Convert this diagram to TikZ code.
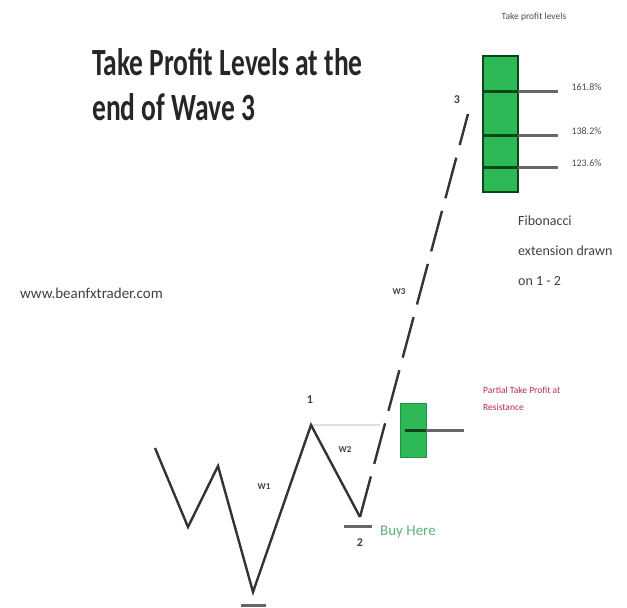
\documentclass[tikz,border=0pt]{standalone}
\usepackage{fontspec}
\setmainfont{Carlito}
\usetikzlibrary{positioning}
\definecolor{boxgreen}{RGB}{45,185,85}
\definecolor{darkgreen}{RGB}{10,70,25}
\definecolor{buygreen}{RGB}{95,175,125}
\definecolor{partred}{RGB}{185,45,70}

\begin{document}
\begin{tikzpicture}[x=1pt,y=-1pt,
  wave/.style={line width=2.4pt, color=black!80, line join=miter},
  wavelbl/.style={font=\bfseries\fontsize{9}{9}\selectfont, text=black!75, inner sep=1pt},
  lvl/.style={line width=3pt, color=black!60},
  txt/.style={font=\fontsize{14}{30}\selectfont, text=black!75, align=left, inner sep=0pt}]
  \useasboundingbox (0,0) rectangle (627,608);

  % Title
  \node[anchor=north west, text=black!85, font=\bfseries\fontsize{27.5}{32}\selectfont,
        inner sep=0pt] (title) at (92,44)
        {\scalebox{1}[1.4]{\begin{tabular}{@{}l@{}}Take Profit Levels at the\\end of Wave 3\end{tabular}}};
  \node[txt, anchor=west, font=\fontsize{15}{15}\selectfont] (site) at (20,293) {www.beanfxtrader.com};

  % Wave points
  \coordinate (s) at (155,448);
  \coordinate (a) at (188,527);
  \coordinate (b) at (218,466);
  \coordinate (w0) at (253,592);
  \coordinate (w1) at (311,425);
  \coordinate (w2) at (360,517);
  \coordinate (w3) at (468,114);
  \coordinate (w1r) at (380,425);

  % Draw the waves
  \draw[black!12, line width=2pt] (w1) -- (w1r);
  \draw[wave] (s) -- (a) -- (b) -- (w0) -- (w1) -- (w2);
  \draw[wave, dash pattern=on 42pt off 13pt] (w2) -- (w3);

  % Wave marks
  \coordinate (w0l) at (241,605);
  \coordinate (w0r) at (266,605);
  \draw[lvl] (w0l) -- (w0r);
  \coordinate (w2l) at (344,526);
  \coordinate (w2r) at (372,526);
  \draw[lvl] (w2l) -- (w2r);
  \node[wavelbl, font=\bfseries\fontsize{12}{12}\selectfont] (n1) at (310,400) {1};
  \node[wavelbl, font=\bfseries\fontsize{12}{12}\selectfont] (n2) at (360,543) {2};
  \node[wavelbl, font=\bfseries\fontsize{12}{12}\selectfont] (n3) at (457,100) {3};
  \node[wavelbl] (lw1) at (264,487) {W1};
  \node[wavelbl] (lw2) at (345,450) {W2};
  \node[wavelbl] (lw3) at (399,292) {W3};
  \node[txt, anchor=west, text=buygreen, font=\fontsize{15}{15}\selectfont] (buy) at (380,532) {Buy Here};

  % Partial take profit box
  \node[draw=boxgreen!80!black, fill=boxgreen, minimum width=26pt, minimum height=54pt,
        inner sep=0pt] (pbox) at (413,430) {};
  \coordinate (pend) at (464,430);
  \draw[lvl] (pbox.east) -- (pend);
  \draw[darkgreen, line width=3pt] (pbox.west) ++(5,0) -- (pbox.east);
  \node[txt, anchor=west, text=partred, font=\fontsize{9.5}{17}\selectfont] (ptxt) at (483,399)
        {Partial Take Profit at\\Resistance};

  % Take profit levels
  \node[font=\fontsize{9.5}{9.5}\selectfont, text=black!70] (tplbl) at (534,17) {Take profit levels};
  \node[draw=darkgreen, line width=2pt, fill=boxgreen, minimum width=35pt, minimum height=136pt,
        inner sep=0pt] (tpbox) at (500.5,124) {};
  \foreach \y/\pct in {91/161.8\%, 135/138.2\%, 167/123.6\%} {
    \coordinate (ll) at (483,\y);
    \coordinate (lr) at (518,\y);
    \coordinate (le) at (558,\y);
    \draw[darkgreen, line width=3pt] (ll) -- (lr);
    \draw[lvl] (lr) -- (le);
    \node[font=\fontsize{10}{10}\selectfont, text=black!70, anchor=west] at (568,\y-4) {\pct};
  }
  \node[txt, anchor=north west] (fib) at (518,216) {Fibonacci\\extension drawn\\on 1 - 2};
\end{tikzpicture}
\end{document}
